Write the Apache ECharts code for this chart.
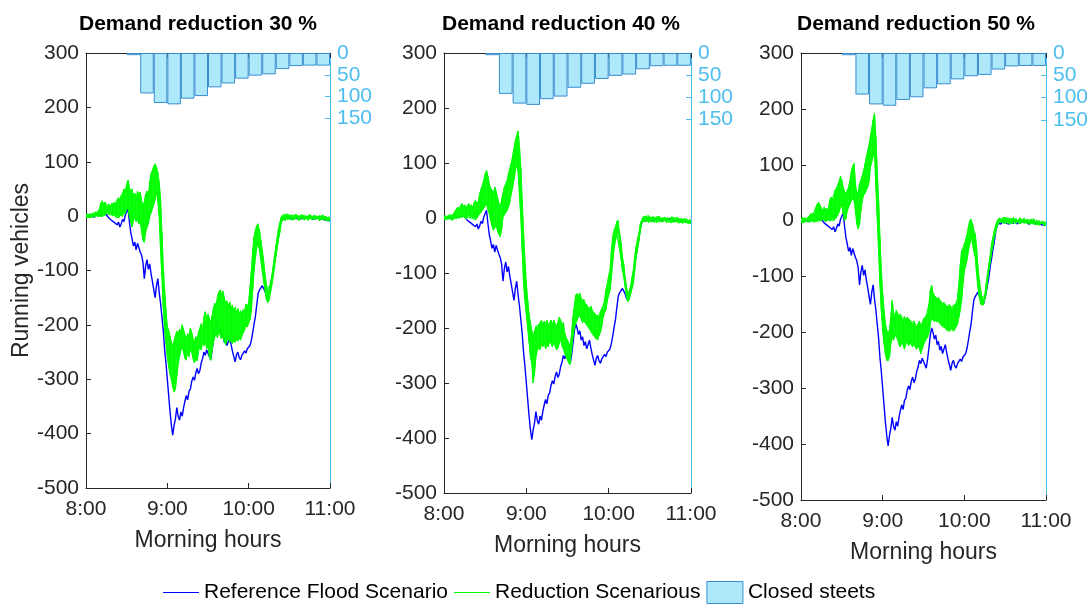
<!DOCTYPE html>
<html>
<head>
<meta charset="utf-8">
<script src="https://cdn.jsdelivr.net/npm/echarts@6/dist/echarts.min.js"></script>
<style>
  html, body { margin: 0; padding: 0; background: #ffffff; }
  #chart { width: 1092px; height: 605px; }
</style>
</head>
<body>
<div id="chart"></div>
<script>
// ---- data -------------------------------------------------------------
// Running vehicles relative to the baseline, one value per minute from 8:00 to 11:00.
const timeLabels = ['8:00', '9:00', '10:00', '11:00'];
const panelTitles = ['Demand reduction 30 %', 'Demand reduction 40 %', 'Demand reduction 50 %'];

// Closed streets per 10-minute bin (8:00 ... 10:50)
const binLabels = ['8:00','8:10','8:20','8:30','8:40','8:50','9:00','9:10','9:20',
                   '9:30','9:40','9:50','10:00','10:10','10:20','10:30','10:40','10:50'];
const closedStreets = [null, null, null, 5, 93, 115, 118, 105, 99, 79, 70, 59, 52, 49, 37, 30, 29, 29];
const streetTicks = [0, 50, 100, 150];

const referenceFlood = [
  0,1,-1,2,0,1,-2,2,3,1,
  4,2,5,3,1,3,0,-4,-2,-8,
  -5,-12,-9,-16,-11,-20,-14,-6,-10,2,
  8,14,-10,-30,-42,-55,-48,-62,-50,-58,
  -66,-72,-84,-115,-92,-80,-98,-88,-106,-120,
  -135,-150,-128,-115,-140,-160,-185,-210,-245,-270,
  -300,-330,-360,-385,-403,-385,-372,-352,-368,-375,
  -360,-368,-352,-340,-330,-338,-322,-318,-304,-296,
  -302,-288,-280,-290,-284,-270,-262,-250,-256,-246,
  -252,-258,-264,-248,-228,-205,-192,-200,-212,-205,
  -222,-216,-232,-225,-238,-230,-222,-236,-248,-258,
  -268,-255,-250,-260,-264,-256,-252,-248,-252,-244,
  -242,-238,-228,-214,-198,-184,-162,-142,-136,-132,
  -128,-130,-138,-146,-150,-148,-130,-115,-102,-82,
  -68,-52,-38,-20,-10,-5,-3,-6,-2,-4,
  -1,-5,-3,-6,-2,-4,-5,-1,-3,-6,
  -2,-4,-3,-5,-1,-4,-2,-6,-3,-5,
  -4,-2,-6,-3,-5,-4,-7,-5,-8,-6,
  -8
];

// Reduction scenarios: upper and lower envelope of the runs
const reduction30Upper = [
  2,4,3,5,3,6,5,8,6,9,
  14,24,28,22,26,20,18,22,16,24,
  20,26,22,30,34,28,38,42,50,46,
  58,66,52,44,50,36,42,30,46,38,
  44,28,18,26,40,46,36,62,78,84,
  92,96,90,80,62,30,-30,-94,-136,-173,
  -204,-210,-222,-232,-238,-230,-220,-212,-218,-208,
  -214,-200,-210,-218,-228,-216,-222,-206,-214,-226,
  -232,-222,-228,-214,-206,-198,-210,-186,-176,-190,
  -180,-188,-196,-184,-170,-160,-166,-148,-140,-136,
  -146,-138,-150,-160,-156,-166,-158,-170,-164,-176,
  -168,-178,-170,-180,-174,-180,-172,-176,-162,-168,
  -158,-130,-100,-63,-38,-26,-17,-14,-26,-45,
  -63,-81,-106,-124,-136,-138,-124,-112,-94,-75,
  -57,-40,-23,-12,-2,2,0,3,1,4,
  0,3,1,-1,2,4,0,2,-1,3,
  1,0,2,-2,1,3,0,-1,2,0,
  1,-2,1,0,-1,2,-2,0,-3,-1,
  -4
];
const reduction30Lower = [
  -2,-1,-3,0,-2,-1,0,-2,1,-1,
  0,2,-1,3,1,5,7,3,6,2,
  0,4,-2,1,-3,0,2,-1,6,4,
  12,16,0,-10,-20,-8,-2,-10,-4,-14,
  -8,-28,-44,-48,-30,-20,-14,0,6,14,
  22,30,46,28,0,-63,-112,-167,-210,-234,
  -258,-277,-290,-301,-314,-323,-318,-295,-271,-258,
  -246,-240,-250,-262,-265,-252,-258,-244,-250,-262,
  -270,-260,-266,-248,-240,-246,-232,-238,-226,-244,
  -236,-258,-265,-246,-232,-222,-214,-224,-210,-218,
  -226,-220,-230,-236,-228,-224,-232,-226,-234,-228,
  -232,-226,-230,-224,-228,-220,-214,-210,-200,-204,
  -196,-190,-173,-136,-100,-75,-57,-51,-63,-81,
  -100,-118,-136,-152,-159,-156,-142,-128,-112,-95,
  -75,-60,-42,-30,-13,-6,-5,-8,-4,-7,
  -5,-3,-7,-4,-6,-2,-5,-8,-4,-6,
  -3,-7,-5,-4,-8,-3,-6,-5,-7,-4,
  -6,-3,-8,-5,-6,-4,-7,-5,-8,-6,
  -9
];
const reduction40Upper = [
  3,5,2,4,6,3,5,8,12,16,
  20,14,22,26,20,24,18,22,26,20,
  24,18,28,32,26,30,44,52,60,68,
  80,86,76,62,54,50,44,56,48,36,
  26,20,34,44,56,62,68,80,90,100,
  112,126,140,150,158,130,90,32,-28,-80,
  -120,-150,-175,-191,-205,-216,-206,-197,-200,-194,
  -191,-186,-196,-188,-192,-186,-196,-190,-186,-194,
  -186,-192,-198,-190,-180,-186,-196,-190,-210,-218,
  -222,-228,-232,-210,-180,-160,-140,-137,-142,-137,
  -146,-150,-148,-155,-158,-162,-166,-160,-167,-172,
  -173,-178,-176,-180,-170,-165,-160,-150,-131,-120,
  -105,-95,-59,-34,-22,-16,-6,-4,-28,-45,
  -70,-85,-107,-126,-139,-136,-124,-108,-95,-70,
  -52,-40,-28,-12,-4,2,0,3,1,4,
  2,0,3,1,-1,2,0,3,-2,1,
  0,2,-1,1,-3,0,2,-1,0,-2,
  1,-1,-3,0,-2,-4,-1,-3,-5,-2,
  -6
];
const reduction40Lower = [
  -2,-4,-1,-3,0,-2,-4,-1,0,-2,
  2,-1,3,0,4,1,-2,2,5,0,
  3,-1,2,-3,0,4,8,10,14,18,
  22,26,16,8,-4,-14,-22,-18,-12,-24,
  -30,-34,-20,2,6,10,14,20,30,44,
  56,70,86,98,84,40,0,-59,-119,-150,
  -175,-200,-225,-252,-265,-300,-280,-252,-240,-236,
  -240,-228,-234,-224,-238,-230,-234,-222,-228,-234,
  -226,-232,-240,-236,-228,-220,-232,-238,-246,-252,
  -258,-264,-267,-240,-216,-200,-191,-186,-180,-176,
  -184,-190,-186,-191,-194,-198,-202,-206,-210,-214,
  -216,-220,-222,-214,-208,-196,-180,-172,-167,-150,
  -140,-131,-107,-77,-54,-40,-30,-28,-59,-75,
  -95,-107,-125,-143,-152,-148,-138,-128,-119,-95,
  -72,-58,-42,-25,-10,-6,-4,-7,-3,-8,
  -5,-6,-3,-7,-4,-8,-5,-6,-3,-7,
  -6,-4,-8,-5,-7,-6,-9,-5,-8,-6,
  -7,-9,-6,-8,-10,-7,-9,-8,-11,-9,
  -10
];
const reduction50Upper = [
  3,6,4,5,3,6,8,12,10,13,
  12,24,30,33,28,22,18,24,20,22,
  18,36,42,38,40,54,58,60,70,79,
  72,60,52,48,54,60,72,88,98,102,
  65,48,52,65,72,80,89,101,113,125,
  135,150,165,180,192,150,89,36,-30,-89,
  -131,-161,-185,-196,-200,-196,-173,-143,-165,-170,
  -161,-166,-172,-167,-175,-178,-172,-180,-173,-176,
  -178,-182,-185,-180,-186,-190,-185,-180,-188,-184,
  -176,-174,-170,-167,-150,-125,-116,-130,-134,-137,
  -140,-137,-142,-145,-149,-146,-150,-152,-155,-150,
  -155,-158,-152,-150,-148,-140,-113,-80,-54,-54,
  -42,-35,-25,-12,0,3,-5,-18,-24,-48,
  -83,-107,-125,-137,-140,-134,-113,-96,-78,-62,
  -42,-30,-18,-8,-2,3,5,2,4,6,
  3,5,2,4,1,3,6,2,4,0,
  3,5,1,2,4,0,3,1,-1,2,
  0,3,-2,1,-1,0,-3,-1,-2,-4,
  -3
];
const reduction50Lower = [
  -3,-1,-4,-2,0,-3,-1,-2,0,-3,
  -2,0,-1,2,0,-1,3,1,-2,0,
  2,-1,1,4,0,3,6,10,16,24,
  28,12,0,4,18,24,30,36,40,36,
  18,-6,-15,-6,18,36,46,48,55,60,
  70,95,105,115,125,60,6,-54,-113,-161,
  -196,-220,-238,-250,-251,-245,-220,-208,-214,-204,
  -208,-212,-222,-226,-218,-222,-230,-220,-216,-224,
  -218,-222,-226,-220,-226,-230,-224,-228,-238,-230,
  -222,-216,-212,-208,-200,-185,-172,-178,-181,-179,
  -182,-179,-184,-186,-190,-188,-192,-196,-194,-198,
  -196,-192,-198,-194,-190,-185,-173,-160,-143,-113,
  -90,-80,-70,-54,-42,-30,-40,-55,-65,-95,
  -119,-137,-149,-152,-150,-140,-131,-110,-89,-75,
  -58,-45,-30,-20,-10,-6,-2,-4,-1,-5,
  -2,-4,-1,-5,-3,-6,-2,-4,-5,-1,
  -3,-6,-4,-2,-5,-3,-6,-4,-7,-5,
  -3,-6,-4,-7,-5,-8,-6,-4,-7,-9,
  -8
];

// ---- layout & style -----------------------------------------------------
const axisColor = '#262626';
const streetColor = '#4DBEEE';
const barFill = '#ADE9FB';
const barEdge = '#3A8DD0';
const blue = '#0000FF';
const green = '#00FF00';
const font = '"Liberation Sans", Arial, Helvetica, sans-serif';

const panels = [
  { title: panelTitles[0], upper: reduction30Upper, lower: reduction30Lower,
    box: { left: 86, top: 53, width: 244, height: 435 }, titleX: 193 },
  { title: panelTitles[1], upper: reduction40Upper, lower: reduction40Lower,
    box: { left: 444, top: 53, width: 247, height: 440 }, titleX: 556 },
  { title: panelTitles[2], upper: reduction50Upper, lower: reduction50Lower,
    box: { left: 801, top: 53, width: 245, height: 447 }, titleX: 911 }
];

const minutes = referenceFlood.map((_, i) => i);
const pairs = arr => minutes.map((m, i) => [m, arr[i]]);

// band between the lower and upper envelope, one quad per minute step
function bandItem(params, api) {
  const m = api.value(0);
  const a = api.coord([m, api.value(1)]);
  const b = api.coord([m + 1, api.value(3)]);
  const c = api.coord([m + 1, api.value(4)]);
  const d = api.coord([m, api.value(2)]);
  return {
    type: 'polygon',
    shape: { points: [a, b, c, d] },
    style: { fill: green, stroke: green, lineWidth: 0.6 }
  };
}

const grids = [], xAxes = [], yAxes = [], series = [], titles = [];

panels.forEach((p, i) => {
  grids.push(Object.assign({}, p.box));

  titles.push({
    text: p.title, left: p.titleX, top: 9, textAlign: 'center',
    textStyle: { fontSize: 21, fontWeight: 'bold', color: '#000', fontFamily: font }
  });

  // bottom time axis
  xAxes.push({
    type: 'value', gridIndex: i, position: 'bottom', min: 0, max: 180, interval: 60,
    axisLine: { onZero: false, lineStyle: { color: axisColor, width: 1 } },
    axisTick: { inside: true, length: 5, lineStyle: { color: axisColor } },
    axisLabel: { formatter: v => timeLabels[v / 60], fontSize: 21, color: axisColor, margin: 11, fontFamily: font },
    splitLine: { show: false },
    name: 'Morning hours', nameLocation: 'middle', nameGap: 41,
    nameTextStyle: { fontSize: 23, color: axisColor, fontFamily: font }
  });
  // top frame line
  xAxes.push({
    type: 'value', gridIndex: i, position: 'top', min: 0, max: 180, interval: 60,
    axisLine: { onZero: false, lineStyle: { color: axisColor, width: 1 } },
    axisTick: { inside: true, length: 5, lineStyle: { color: axisColor } },
    axisLabel: { show: false }, splitLine: { show: false }
  });
  // 10-minute bins for the closed-street bars
  xAxes.push({
    type: 'category', gridIndex: i, data: binLabels, show: false, boundaryGap: true
  });

  yAxes.push({
    type: 'value', gridIndex: i, position: 'left', min: -500, max: 300, interval: 100,
    axisLine: { show: true, onZero: false, lineStyle: { color: axisColor, width: 1 } },
    axisTick: { show: true, inside: true, length: 5, lineStyle: { color: axisColor } },
    axisLabel: { fontSize: 21, color: axisColor, margin: 7, fontFamily: font },
    splitLine: { show: false },
    name: i === 0 ? 'Running vehicles' : '', nameLocation: 'middle', nameRotate: 90, nameGap: 50,
    nameTextStyle: { fontSize: 23, color: axisColor, fontFamily: font }
  });
  yAxes.push({
    type: 'value', gridIndex: i, position: 'right', min: 0, max: 1000, inverse: true,
    axisLine: { show: true, onZero: false, lineStyle: { color: streetColor, width: 1 } },
    axisTick: { show: true, inside: true, length: 5, customValues: streetTicks, lineStyle: { color: streetColor } },
    axisLabel: { customValues: streetTicks, fontSize: 21, color: streetColor, margin: 7, fontFamily: font },
    splitLine: { show: false }
  });

  series.push({
    type: 'bar', name: 'Closed steets', xAxisIndex: 3 * i + 2, yAxisIndex: 2 * i + 1,
    data: closedStreets, barWidth: '100%', silent: true, z: 1,
    itemStyle: { color: barFill, borderColor: barEdge, borderWidth: 1 }
  });
  series.push({
    type: 'line', name: 'Reference Flood Scenario', xAxisIndex: 3 * i, yAxisIndex: 2 * i,
    data: pairs(referenceFlood), symbol: 'none', showSymbol: false, silent: true, z: 3,
    lineStyle: { color: blue, width: 1.4 }, itemStyle: { color: blue }
  });
  series.push({
    type: 'line', name: 'Reduction Scenarious', xAxisIndex: 3 * i, yAxisIndex: 2 * i,
    data: pairs(p.upper), symbol: 'none', showSymbol: false, silent: true, z: 5,
    lineStyle: { color: green, width: 1 }, itemStyle: { color: green }
  });
  series.push({
    type: 'line', name: 'Reduction Scenarious', xAxisIndex: 3 * i, yAxisIndex: 2 * i,
    data: pairs(p.lower), symbol: 'none', showSymbol: false, silent: true, z: 5,
    lineStyle: { color: green, width: 1 }, itemStyle: { color: green }
  });
  series.push({
    type: 'custom', name: 'Reduction Scenarious', xAxisIndex: 3 * i, yAxisIndex: 2 * i,
    data: minutes.slice(0, -1).map(m => [m, p.upper[m], p.lower[m], p.upper[m + 1], p.lower[m + 1]]),
    encode: { x: 0, y: [1, 2] }, renderItem: bandItem, clip: true, silent: true, z: 4,
    itemStyle: { color: green }
  });
});

const lineIcon = 'path://M0,0H36V1.2H0Z';

const chart = echarts.init(document.getElementById('chart'), null, { renderer: 'canvas' });
chart.setOption({
  animation: false,
  backgroundColor: '#ffffff',
  textStyle: { fontFamily: font },
  title: titles,
  grid: grids,
  xAxis: xAxes,
  yAxis: yAxes,
  legend: {
    data: [
      { name: 'Reference Flood Scenario', icon: lineIcon, itemStyle: { color: blue, borderWidth: 0 } },
      { name: 'Reduction Scenarious', icon: lineIcon, itemStyle: { color: green, borderWidth: 0 } },
      { name: 'Closed steets', icon: 'rect', itemStyle: { color: barFill, borderColor: barEdge, borderWidth: 1 } }
    ],
    left: 158, top: 576, itemWidth: 36, itemHeight: 22, itemGap: 6,
    selectedMode: false,
    textStyle: { fontSize: 21, color: '#000', fontFamily: font }
  },
  series: series
});
</script>
</body>
</html>
